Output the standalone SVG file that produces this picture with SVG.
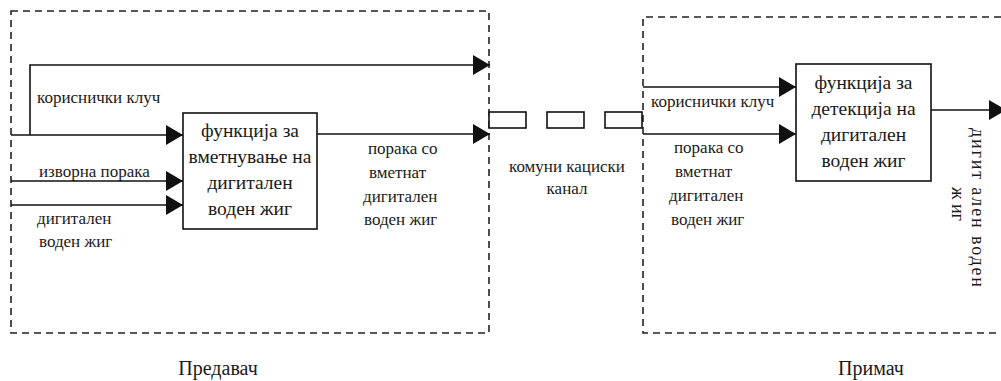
<svg xmlns="http://www.w3.org/2000/svg" width="1001" height="381" viewBox="0 0 1001 381">
<style>
.t{font-family:"Liberation Serif","Times New Roman",serif;fill:#1a1a1a}
.lab{font-size:17px}
.box{font-size:19.5px;text-anchor:middle}
.big{font-size:20px;text-anchor:middle}
.dash{fill:none;stroke:#222;stroke-width:1.6;stroke-dasharray:7 5}
.ln{fill:none;stroke:#111;stroke-width:1.6}
.rect{fill:#fff;stroke:#111;stroke-width:1.6}
</style>
<defs>
<marker id="ah" markerUnits="userSpaceOnUse" markerWidth="18" markerHeight="20" refX="17" refY="10" orient="auto">
<path d="M0,0 L17,10 L0,20 Z" fill="#111"/>
</marker>
</defs>
<rect width="1001" height="381" fill="#fff"/>

<g id="transmitter-frame">
<rect class="dash" x="11" y="11" width="478" height="322"/>
<text class="t big" x="218" y="375">Предавач</text>
</g>
<g id="receiver-frame">
<path class="dash" d="M1001,17 H643 V333 H1001"/>
<text class="t big" x="871" y="375">Примач</text>
</g>

<g id="connectors">
<path class="ln" d="M30,135 V65 H490" marker-end="url(#ah)"/>
<path class="ln" d="M11,135 H183" marker-end="url(#ah)"/>
<path class="ln" d="M11,181 H183" marker-end="url(#ah)"/>
<path class="ln" d="M11,205 H183" marker-end="url(#ah)"/>
<path class="ln" d="M317,134 H490" marker-end="url(#ah)"/>
<path class="ln" d="M643,87 H796" marker-end="url(#ah)"/>
<path class="ln" d="M643,134 H796" marker-end="url(#ah)"/>
<path class="ln" d="M931,110 H1006" marker-end="url(#ah)"/>
</g>

<g id="channel">
<rect class="rect" x="489" y="112" width="37" height="16"/>
<rect class="rect" x="547" y="112" width="37" height="16"/>
<rect class="rect" x="605" y="112" width="37" height="16"/>
<text class="t lab" x="567" y="172" text-anchor="middle">комуни кациски</text>
<text class="t lab" x="567" y="194" text-anchor="middle">канал</text>
</g>

<g id="embed">
<rect class="rect" x="183" y="113" width="134" height="116"/>
<text class="t box" x="250" y="137">функција за</text>
<text class="t box" x="250" y="163">вметнување на</text>
<text class="t box" x="250" y="189">дигитален</text>
<text class="t box" x="250" y="215">воден жиг</text>
</g>

<g id="detect">
<rect class="rect" x="796" y="64" width="135" height="117"/>
<text class="t box" x="863.5" y="89">функција за</text>
<text class="t box" x="863.5" y="115">детекција на</text>
<text class="t box" x="863.5" y="141">дигитален</text>
<text class="t box" x="863.5" y="167">воден жиг</text>
</g>

<g id="labels">
<text class="t lab" x="37" y="103">кориснички клуч</text>
<text class="t lab" x="39" y="177">изворна порака</text>
<text class="t lab" x="37" y="224">дигитален</text>
<text class="t lab" x="39" y="247">воден жиг</text>
<text class="t lab" x="368" y="154">порака со</text>
<text class="t lab" x="369" y="178">вметнат</text>
<text class="t lab" x="363" y="202">дигитален</text>
<text class="t lab" x="364" y="225">воден жиг</text>
<text class="t lab" x="651" y="107">кориснички клуч</text>
<text class="t lab" x="674" y="153">порака со</text>
<text class="t lab" x="675" y="177">вметнат</text>
<text class="t lab" x="669" y="201">дигитален</text>
<text class="t lab" x="671" y="225">воден жиг</text>
<text class="t lab" transform="translate(972,128) rotate(90)" textLength="159" lengthAdjust="spacing" style="font-size:18px">дигит ален воден</text>
<text class="t lab" transform="translate(952,187) rotate(90)" style="font-size:18px">ж иг</text>
</g>
</svg>
